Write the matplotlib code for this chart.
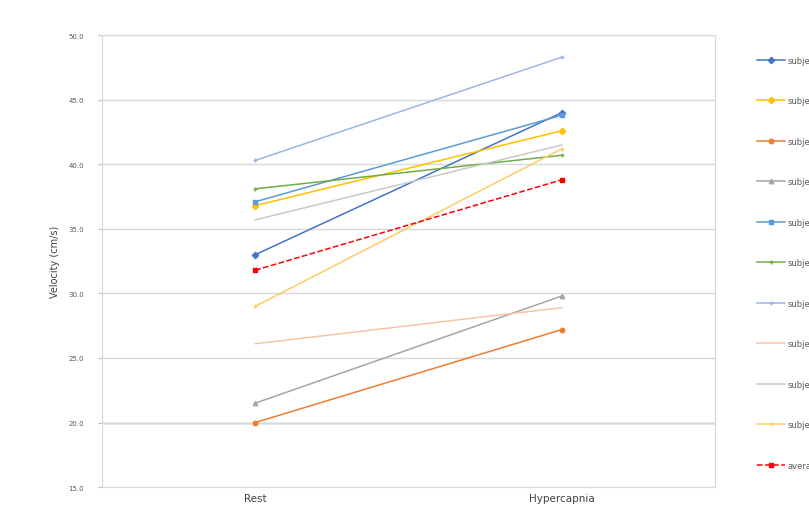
import matplotlib.pyplot as plt
import numpy as np

conditions = ['Rest', 'Hypercapnia']
series_names = ['subject1', 'subject2', 'subject3', 'subject4', 'subject5',
                'subject6', 'subject7', 'subject8', 'subject9', 'subject10',
                'average']
rest = [33.0, 36.8, 20.0, 21.5, 37.1, 38.1, 40.3, 26.1, 35.7, 29.0, 31.8]
hypercapnia = [44.0, 42.6, 27.2, 29.8, 43.8, 40.7, 48.3, 28.9, 41.5, 41.2, 38.8]

colors = ['#4472C4', '#FFC000', '#ED7D31', '#A5A5A5', '#5B9BD5', '#70AD47',
          '#9EB4E6', '#F8C3A8', '#C9C9C9', '#FFCC66', '#FF0000']
markers = ['D', 'D', 'o', '^', 's', '+', '+', '', '', '+', 's']
styles = ['-'] * 10 + ['--']

fig = plt.figure(figsize=(8.09, 5.10), dpi=100)
ax = fig.add_axes([0.126, 0.043, 0.758, 0.886])

x = np.arange(len(conditions))
for i, name in enumerate(series_names):
    ax.plot(x, [rest[i], hypercapnia[i]], color=colors[i], linestyle=styles[i],
            linewidth=1.1, marker=markers[i] or None, markersize=3.2,
            markeredgewidth=1.0, label=name, zorder=3)

ax.set_xlim(-0.5, 1.5)
ax.set_ylim(15, 50)
ax.set_yticks(np.arange(15, 51, 5))
ax.set_yticklabels([f'{v:.1f}' for v in np.arange(15, 51, 5)], fontsize=5,
                   color='#595959')
ax.set_xticks(x)
ax.set_xticklabels(conditions, fontsize=7.5, color='#404040')
ax.tick_params(axis='y', length=3, color='#BFBFBF', pad=10)
ax.tick_params(axis='x', length=0, pad=4)
ax.grid(axis='y', color='#D9D9D9', linewidth=1.0, zorder=0)
ax.axhline(20, color='#A6A6A6', linewidth=1.0, zorder=1)
for s in ax.spines.values():
    s.set_color('#D9D9D9')
ax.set_ylabel('Velocity (cm/s)', fontsize=7, color='#404040', labelpad=6)

# legend sits past the right edge, so long names run off the figure
ax.legend(loc='upper left', bbox_to_anchor=(1.056, 0.971), frameon=False,
          fontsize=6, labelspacing=3.78, handlelength=3.36, handletextpad=0.36,
          labelcolor='#595959')

fig.savefig('out.png', dpi=100)
